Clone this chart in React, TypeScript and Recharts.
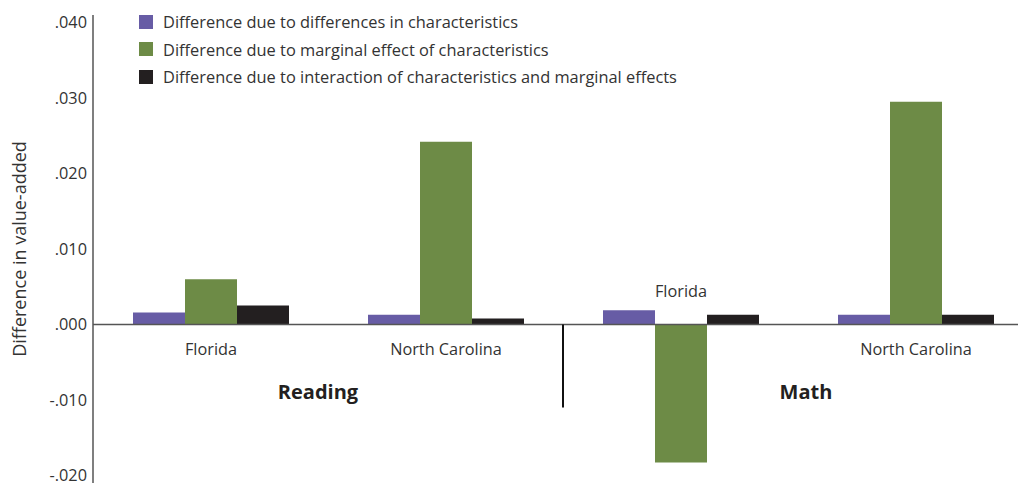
import React from 'react';
import { BarChart, Bar, XAxis, YAxis, LabelList, ReferenceLine, ReferenceDot } from 'recharts';

const categories = ['Reading Florida', 'Reading North Carolina', 'Math Florida', 'Math North Carolina'];
const stateLabels = ['Florida', 'North Carolina', 'Florida', 'North Carolina'];
const subjects = ['Reading', 'Math'];
const charVals = [0.0016, 0.0013, 0.0019, 0.0013];
const marginalVals = [0.006, 0.0242, -0.0183, 0.0295];
const interactVals = [0.0025, 0.0008, 0.0013, 0.0013];
const yTicks = [-0.02, -0.01, 0, 0.01, 0.02, 0.03, 0.04];
const seriesNames = [
  'Difference due to differences in characteristics',
  'Difference due to marginal effect of characteristics',
  'Difference due to interaction of characteristics and marginal effects',
];

const COLORS = ['#675ca5', '#6d8b46', '#231f20'];
const FONT = '"Open Sans", Lato, sans-serif';

const data = categories.map((c, i) => ({
  cat: c,
  pos: i + 0.5,
  state: stateLabels[i],
  a: charVals[i],
  b: marginalVals[i],
  c: interactVals[i],
}));

const fmt = (v: number) => (v < 0 ? '-' : '') + Math.abs(v).toFixed(3).replace(/^0/, '');

const StateLabel = (p: any) => {
  const { x, y, width, height, index, value } = p;
  const zeroY = y + height;
  const cx = x + width * 1.5;
  const above = marginalVals[index] < 0;
  return (
    <text x={cx} y={above ? zeroY - 33 : zeroY + 25} textAnchor="middle" dominantBaseline="central"
      fontFamily={FONT} fontSize={16.3} fill="#333">
      {value}
    </text>
  );
};

const LegendBox = () => (
  <div style={{ position: 'absolute', left: 131, top: 0, fontFamily: FONT, fontSize: 16.4, color: '#333' }}>
    {seriesNames.map((n, i) => (
      <div key={n} style={{ display: 'flex', alignItems: 'center', height: 27.5 }}>
        <span style={{ width: 14, height: 14, background: COLORS[i], display: 'inline-block', marginRight: 10 }} />
        <span>{n}</span>
      </div>
    ))}
  </div>
);

const groupShape = (label: string, dx: number) => (p: any) => (
  <text x={p.cx + dx} y={p.cy} textAnchor="middle" dominantBaseline="central" fontFamily={FONT}
    fontSize={20} fontWeight={700} fill="#231f20">
    {label}
  </text>
);

export default function App() {
  return (
    <div style={{ width: 1018, height: 475, overflow: 'hidden', position: 'relative' }}>
      <BarChart width={1025} height={480} data={data} barGap={0} barSize={52}
        margin={{ top: 7, right: 0, bottom: 5, left: 0 }}>
        <XAxis dataKey="cat" hide />
        <XAxis xAxisId="grp" dataKey="pos" type="number" domain={[0, 4]} allowDataOverflow hide />
        <YAxis width={85} domain={[-0.021, 0.041]} ticks={yTicks} tickFormatter={fmt} tickLine={false}
          tickSize={4} tickMargin={2} axisLine={{ stroke: '#555', strokeWidth: 1.5 }}
          tick={{ fill: '#333', fontSize: 16.3, fontFamily: FONT }} interval={0}
          label={() => {
            const cy = 249 - 8;
            return (
              <text x={11} y={cy} transform={`rotate(-90, 11, ${cy})`} textAnchor="middle"
                dominantBaseline="central" fontFamily={FONT} fontSize={18} fill="#333">
                Difference in value-added
              </text>
            );
          }} />
        <Bar dataKey="a" name={seriesNames[0]} fill={COLORS[0]} isAnimationActive={false}>
          <LabelList dataKey="state" content={StateLabel} />
        </Bar>
        <Bar dataKey="b" name={seriesNames[1]} fill={COLORS[1]} isAnimationActive={false} />
        <Bar dataKey="c" name={seriesNames[2]} fill={COLORS[2]} isAnimationActive={false} />
        <ReferenceLine y={0} stroke="#555" strokeWidth={1.5} />
        <ReferenceLine xAxisId="grp" segment={[{ x: 2, y: 0 }, { x: 2, y: -0.011 }]} stroke="#111" strokeWidth={2} />
        <ReferenceDot xAxisId="grp" x={1} y={-0.0089} r={0} shape={groupShape(subjects[0], -10)} />
        <ReferenceDot xAxisId="grp" x={3} y={-0.0089} r={0} shape={groupShape(subjects[1], 8)} />
      </BarChart>
      <LegendBox />
    </div>
  );
}
